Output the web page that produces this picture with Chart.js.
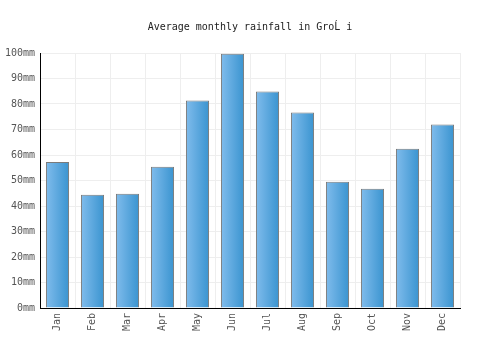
<!DOCTYPE html>
<html>
<head>
<meta charset="utf-8">
<script src="https://cdn.jsdelivr.net/npm/chart.js@4/dist/chart.umd.min.js"></script>
<style>
html,body{margin:0;padding:0;background:#fff;}
#wrap{width:500px;height:350px;}
</style>
</head>
<body>
<div id="wrap"><canvas id="c" width="500" height="350"></canvas></div>
<script>
const titleText = "Average monthly rainfall in GroĹ i";
const months = ["Jan","Feb","Mar","Apr","May","Jun","Jul","Aug","Sep","Oct","Nov","Dec"];
const rainfall = [57.3, 44.4, 44.8, 55.4, 81.4, 99.7, 84.9, 76.7, 49.5, 46.8, 62.5, 72.0];
const yTicks = [0,10,20,30,40,50,60,70,80,90,100];

const BAR_PCT = 0.66;
const FONT = "'DejaVu Sans Mono', monospace";

function barGradient(ctx) {
  const chart = ctx.chart;
  const xs = chart.scales.x;
  if (!xs || ctx.dataIndex === undefined) return '#5aa6dd';
  const cx = xs.getPixelForValue(ctx.dataIndex);
  const cw = xs.width / months.length;
  const half = cw * BAR_PCT / 2;
  if (!isFinite(cx) || !isFinite(half) || half <= 0) return '#5aa6dd';
  const g = chart.ctx.createLinearGradient(cx - half, 0, cx + half, 0);
  g.addColorStop(0, '#80bcec');
  g.addColorStop(1, '#3a94d0');
  return g;
}

new Chart(document.getElementById('c'), {
  type: 'bar',
  data: {
    labels: months,
    datasets: [{
      data: rainfall,
      backgroundColor: barGradient,
      borderColor: '#7a7a7a',
      borderWidth: 1,
      borderSkipped: 'bottom',
      barPercentage: BAR_PCT,
      categoryPercentage: 1.0
    }]
  },
  options: {
    responsive: false,
    animation: false,
    devicePixelRatio: 1,
    layout: { padding: 0 },
    plugins: {
      legend: { display: false },
      tooltip: { enabled: false },
      title: {
        display: true,
        text: titleText,
        color: '#222',
        font: { family: FONT, size: 10, weight: 'normal', lineHeight: 1.2 },
        padding: { top: 21, bottom: 20 }
      }
    },
    scales: {
      x: {
        grid: { color: '#eeeeee', drawTicks: false, offset: true },
        border: { color: '#000', width: 1 },
        ticks: {
          color: '#555',
          font: { family: FONT, size: 10 },
          minRotation: 90,
          maxRotation: 90,
          padding: 5,
          autoSkip: false
        },
        afterFit: s => { s.height = 42; }
      },
      y: {
        min: 0,
        max: 100,
        afterBuildTicks: s => { s.ticks = yTicks.map(v => ({ value: v })); },
        grid: { color: '#eeeeee', drawTicks: false },
        border: { color: '#000', width: 1 },
        ticks: {
          color: '#555',
          font: { family: FONT, size: 10 },
          padding: 5,
          callback: v => v + 'mm'
        },
        afterFit: s => { s.width = 40; }
      },
      yRight: {
        position: 'right',
        min: 0,
        max: 100,
        grid: { display: false, drawTicks: false },
        border: { display: false },
        ticks: { display: false },
        afterFit: s => { s.width = 40; }
      }
    }
  }
});
</script>
</body>
</html>
